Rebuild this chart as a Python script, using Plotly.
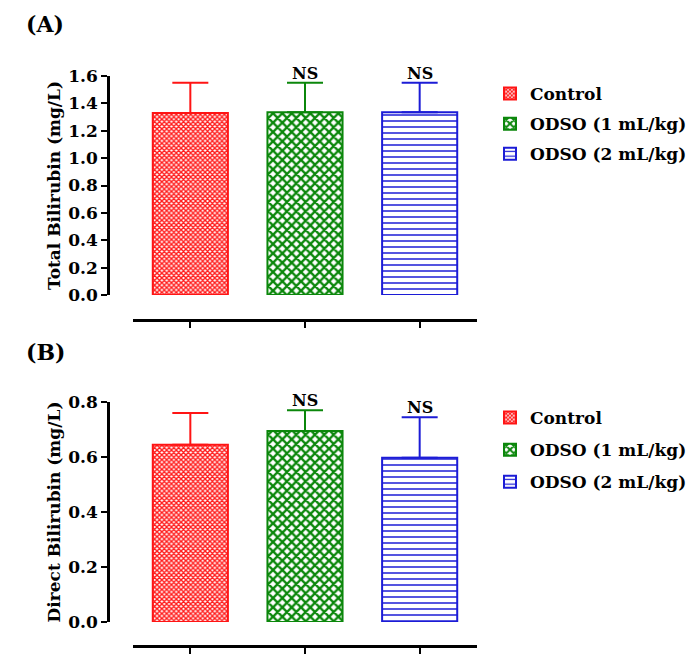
import plotly.graph_objects as go

groups = ["Control", "ODSO (1 mL/kg)", "ODSO (2 mL/kg)"]
total_mean = [1.33, 1.335, 1.335]
total_err = [0.22, 0.215, 0.215]
direct_mean = [0.645, 0.695, 0.597]
direct_err = [0.115, 0.075, 0.148]
sig_total = ["", "NS", "NS"]
sig_direct = ["", "NS", "NS"]

colors = ["#FF1414", "#0B870B", "#1C1CD6"]
patterns = [
    dict(shape="x", fgcolor="#FF1A1A", bgcolor="white", size=3.4, solidity=0.65, fillmode="replace"),
    dict(shape="x", fgcolor="#0B870B", bgcolor="white", size=6.6, solidity=0.6, fillmode="replace"),
    dict(shape="-", fgcolor="#1C1CD6", bgcolor="white", size=6, solidity=0.25, fillmode="replace"),
]

FONT = "DejaVu Serif"
W, H = 695, 672

def px_x(p):
    return p / W

def px_y(p):
    return 1 - p / H

fig = go.Figure()

panels = [
    dict(means=total_mean, errs=total_err, sig=sig_total, xa="x", ya="y", legend="legend"),
    dict(means=direct_mean, errs=direct_err, sig=sig_direct, xa="x2", ya="y2", legend="legend2"),
]

for pi, pn in enumerate(panels):
    for i, g in enumerate(groups):
        fig.add_trace(go.Bar(
            x=[g], y=[pn["means"][i]], name=g, width=0.655,
            xaxis=pn["xa"], yaxis=pn["ya"], legend=pn["legend"],
            legendgroup=f"{pi}-{i}",
            marker=dict(color="white", pattern=patterns[i], line=dict(color=colors[i], width=2)),
            error_y=dict(type="data", symmetric=False, array=[pn["errs"][i]], arrayminus=[0],
                         color=colors[i], thickness=2, width=18),
        ))
        if pn["sig"][i]:
            fig.add_annotation(x=g, y=pn["means"][i] + pn["errs"][i], xref=pn["xa"], yref=pn["ya"],
                               text=pn["sig"][i], showarrow=False, yanchor="bottom", yshift=-2,
                               font=dict(family=FONT, size=16, color="black", weight="bold"))

axis_common = dict(showline=True, linecolor="black", linewidth=2.5, ticks="outside", ticklen=6,
                   tickwidth=2, tickcolor="black", showgrid=False, zeroline=False)

tickfont = dict(family=FONT, size=17, color="black", weight="bold")
titlefont = dict(family=FONT, size=17, color="black", weight="bold")
legfont = dict(family=FONT, size=17, color="black", weight="bold")

xdom = [px_x(133), px_x(477)]
fig.update_layout(
    width=W, height=H, margin=dict(l=0, r=0, t=0, b=0, autoexpand=False),
    paper_bgcolor="white", plot_bgcolor="white", barmode="overlay",
    xaxis=dict(domain=xdom, anchor="free", position=px_y(320), range=[-0.5, 2.5],
               showticklabels=False, **axis_common),
    yaxis=dict(domain=[px_y(295), px_y(76)], anchor="free", position=px_x(108), range=[0, 1.6],
               dtick=0.2, tickformat=".1f", tickfont=tickfont,
               title=dict(text="Total Bilirubin (mg/L)", standoff=2, font=titlefont),
               **axis_common),
    xaxis2=dict(domain=xdom, anchor="free", position=px_y(646), range=[-0.5, 2.5],
                showticklabels=False, **axis_common),
    yaxis2=dict(domain=[px_y(622), px_y(402)], anchor="free", position=px_x(108), range=[0, 0.8],
                dtick=0.2, tickformat=".1f", tickfont=tickfont,
                title=dict(text="Direct Bilirubin (mg/L)", standoff=2, font=titlefont),
                **axis_common),
    legend=dict(x=px_x(490), xanchor="left", y=px_y(76), yanchor="top", tracegroupgap=5,
                font=legfont, bgcolor="rgba(0,0,0,0)"),
    legend2=dict(x=px_x(490), xanchor="left", y=px_y(400), yanchor="top", tracegroupgap=7,
                 font=legfont, bgcolor="rgba(0,0,0,0)"),
    showlegend=True,
)

fig.add_annotation(x=px_x(24), y=px_y(24), xref="paper", yref="paper", text="(A)", showarrow=False,
                   xanchor="left", yanchor="middle",
                   font=dict(family=FONT, size=22, color="black", weight="bold"))
fig.add_annotation(x=px_x(24), y=px_y(352), xref="paper", yref="paper", text="(B)", showarrow=False,
                   xanchor="left", yanchor="middle",
                   font=dict(family=FONT, size=22, color="black", weight="bold"))

fig.write_html("out.html", config={"displayModeBar": False},
               post_script="document.body.style.margin='0';")
